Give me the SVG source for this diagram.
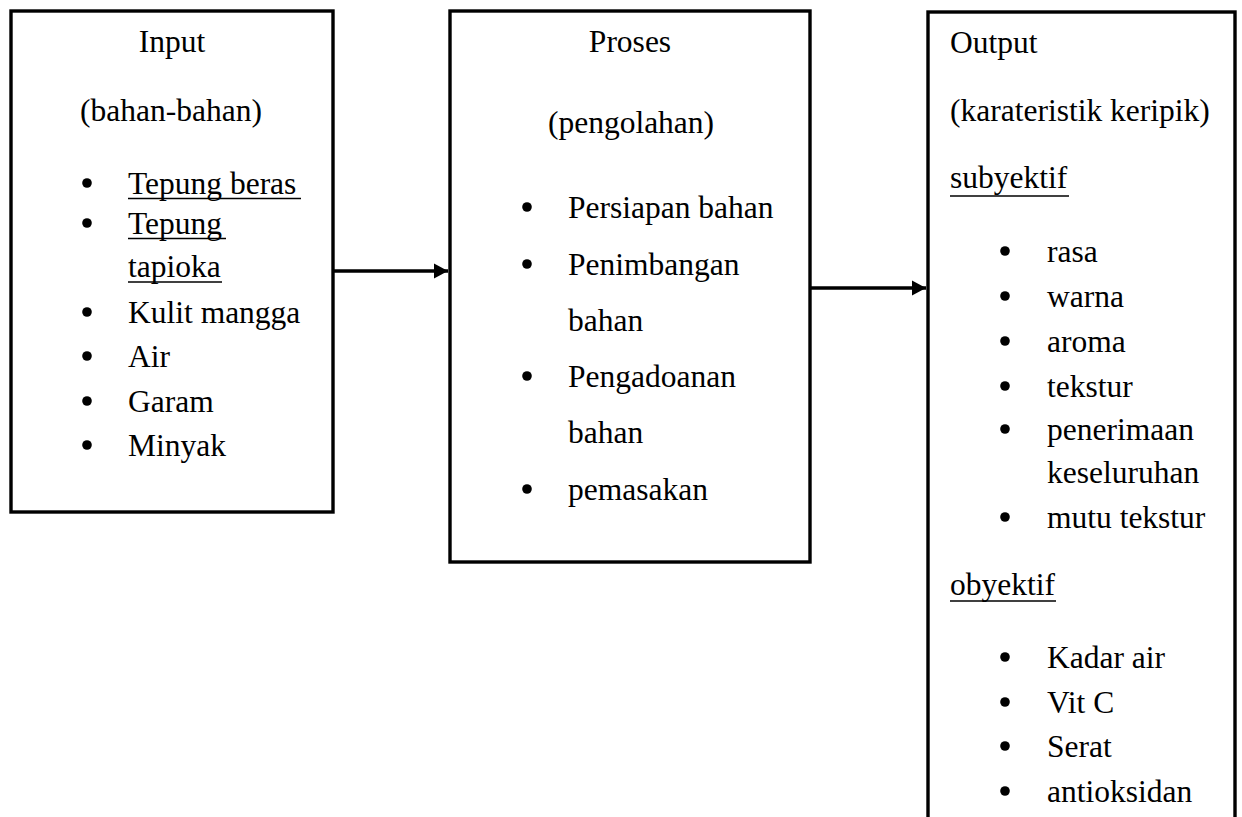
<svg xmlns="http://www.w3.org/2000/svg" width="1242" height="817" viewBox="0 0 1242 817">
<defs>
<style>
.box{fill:#fff;stroke:#000;stroke-width:3.4}
text{font-family:"Liberation Serif","Times New Roman",serif;font-size:31.5px;fill:#000}
.c{text-anchor:middle}
.ul{stroke:#000;stroke-width:1.6}
.conn{stroke:#000;stroke-width:3.4;fill:none}
</style>
<marker id="arr" markerWidth="15" markerHeight="16" refX="14" refY="8" orient="auto" markerUnits="userSpaceOnUse">
<path d="M0,0.5 L14,8 L0,15.5 Z" fill="#000"/>
</marker>
</defs>
<rect width="1242" height="817" fill="#fff"/>
<g id="input">
<rect class="box" x="11" y="11" width="322" height="501"/>
<text class="c" x="172" y="52">Input</text>
<text x="80" y="121">(bahan-bahan)</text>
<circle cx="87" cy="183" r="4.8"/><text x="128" y="194">Tepung beras</text><line class="ul" x1="128" y1="198.5" x2="301" y2="198.5"/>
<circle cx="87" cy="223" r="4.8"/><text x="128" y="234">Tepung</text><line class="ul" x1="128" y1="238.5" x2="226" y2="238.5"/>
<text x="128" y="277">tapioka</text><line class="ul" x1="128" y1="282" x2="222" y2="282"/>
<circle cx="87" cy="312" r="4.8"/><text x="128" y="323">Kulit mangga</text>
<circle cx="87" cy="356" r="4.8"/><text x="128" y="367">Air</text>
<circle cx="87" cy="401" r="4.8"/><text x="128" y="412">Garam</text>
<circle cx="87" cy="445" r="4.8"/><text x="128" y="456">Minyak</text>
</g>
<g id="proses">
<rect class="box" x="450" y="11" width="360" height="551"/>
<text class="c" x="630" y="52">Proses</text>
<text class="c" x="631" y="133">(pengolahan)</text>
<circle cx="527" cy="207" r="4.8"/><text x="568" y="218">Persiapan bahan</text>
<circle cx="527" cy="264" r="4.8"/><text x="568" y="275">Penimbangan</text>
<text x="568" y="331">bahan</text>
<circle cx="527" cy="376" r="4.8"/><text x="568" y="387">Pengadoanan</text>
<text x="568" y="443">bahan</text>
<circle cx="527" cy="489" r="4.8"/><text x="568" y="500">pemasakan</text>
</g>
<g id="output">
<rect class="box" x="928" y="12" width="307" height="830"/>
<text x="950" y="53">Output</text>
<text x="950" y="121">(karateristik keripik)</text>
<text x="950" y="188">subyektif</text><line class="ul" x1="950" y1="196" x2="1069" y2="196"/>
<circle cx="1005" cy="251" r="4.8"/><text x="1047" y="262">rasa</text>
<circle cx="1005" cy="296" r="4.8"/><text x="1047" y="307">warna</text>
<circle cx="1005" cy="341" r="4.8"/><text x="1047" y="352">aroma</text>
<circle cx="1005" cy="386" r="4.8"/><text x="1047" y="397">tekstur</text>
<circle cx="1005" cy="429" r="4.8"/><text x="1047" y="440">penerimaan</text>
<text x="1047" y="483">keseluruhan</text>
<circle cx="1005" cy="517" r="4.8"/><text x="1047" y="528">mutu tekstur</text>
<text x="950" y="595">obyektif</text><line class="ul" x1="950" y1="601" x2="1056" y2="601"/>
<circle cx="1005" cy="657" r="4.8"/><text x="1047" y="668">Kadar air</text>
<circle cx="1005" cy="702" r="4.8"/><text x="1047" y="713">Vit C</text>
<circle cx="1005" cy="746" r="4.8"/><text x="1047" y="757">Serat</text>
<circle cx="1005" cy="791" r="4.8"/><text x="1047" y="802">antioksidan</text>
</g>
<g id="connectors">
<line class="conn" x1="333" y1="271" x2="448" y2="271" marker-end="url(#arr)"/>
<line class="conn" x1="810" y1="288" x2="926" y2="288" marker-end="url(#arr)"/>
</g>
</svg>
